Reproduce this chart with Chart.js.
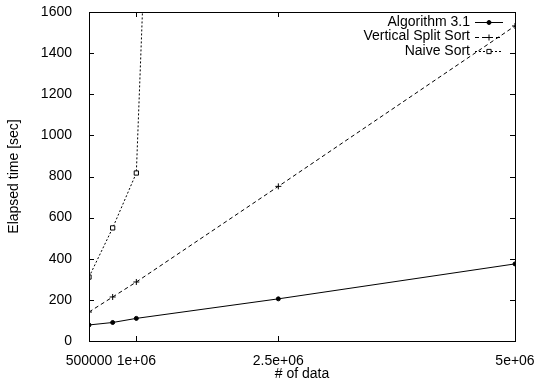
<!DOCTYPE html>
<html>
<head>
<meta charset="utf-8">
<script src="https://cdn.jsdelivr.net/npm/chart.js@4/dist/chart.umd.min.js"></script>
<style>
  html, body { margin: 0; padding: 0; background: #fff; }
</style>
</head>
<body>
<canvas id="perfChart" width="544" height="378"></canvas>
<script>
'use strict';

// data
var sizes = [500000, 750000, 1000000, 2500000, 5000000];
var algo31 = [78, 90, 110, 205, 375];
var vsplit = [141, 214, 287, 752, 1532];
var naiveSizes = [500000, 750000, 1000000, 2500000];
var naive = [311, 550, 817, 19000];

var xTicks = [500000, 1000000, 2500000, 5000000];
var xTickLabels = ['500000', '1e+06', '2.5e+06', '5e+06'];
var yTicks = [0, 200, 400, 600, 800, 1000, 1200, 1400, 1600];

function pairs(xs, ys) {
  return xs.map(function(x, i) { return { x: x, y: ys[i] }; });
}

var FONT = 'Liberation Sans, Arial, Helvetica, sans-serif';

// gnuplot style box with inward ticks
var framePlugin = {
  id: 'frame',
  afterDraw: function(chart) {
    var ctx = chart.ctx;
    var a = chart.chartArea;
    var xs = chart.scales.x, ys = chart.scales.y;
    ctx.save();
    ctx.strokeStyle = '#000';
    ctx.lineWidth = 1;
    ctx.setLineDash([]);
    ctx.strokeRect(a.left + 0.5, a.top + 0.5, a.right - a.left, a.bottom - a.top);
    ctx.beginPath();
    yTicks.forEach(function(v) {
      var py = Math.round(ys.getPixelForValue(v)) + 0.5;
      ctx.moveTo(a.left, py); ctx.lineTo(a.left + 5, py);
      ctx.moveTo(a.right, py); ctx.lineTo(a.right - 5, py);
    });
    xTicks.forEach(function(v) {
      var px = Math.round(xs.getPixelForValue(v)) + 0.5;
      ctx.moveTo(px, a.bottom); ctx.lineTo(px, a.bottom - 5);
      ctx.moveTo(px, a.top); ctx.lineTo(px, a.top + 5);
    });
    ctx.stroke();

    // key in the top right corner
    ctx.font = '14px ' + FONT;
    ctx.textAlign = 'right';
    ctx.textBaseline = 'middle';
    chart.data.datasets.forEach(function(ds, i) {
      var y = a.top + 10 + i * 14.5;
      ctx.fillStyle = '#000';
      ctx.fillText(ds.label, a.right - 45, y);
      ctx.beginPath();
      ctx.setLineDash(ds.borderDash || []);
      ctx.moveTo(a.right - 40, Math.round(y) + 0.5);
      ctx.lineTo(a.right - 12, Math.round(y) + 0.5);
      ctx.stroke();
      ctx.setLineDash([]);
      ctx.fillStyle = ds.pointBackgroundColor;
      ctx.strokeStyle = '#000';
      Chart.helpers.drawPoint(ctx, {
        pointStyle: ds.pointStyle,
        radius: ds.pointRadius,
        borderWidth: 1
      }, a.right - 26, Math.round(y) + 0.5);
    });
    ctx.restore();
  }
};

var ctx = document.getElementById('perfChart').getContext('2d');

var chart = new Chart(ctx, {
  type: 'line',
  data: {
    datasets: [{
      label: 'Algorithm 3.1',
      data: pairs(sizes, algo31),
      borderColor: '#000',
      borderWidth: 1,
      pointStyle: 'circle',
      pointRadius: 2,
      pointBackgroundColor: '#000',
      pointBorderColor: '#000'
    }, {
      label: 'Vertical Split Sort',
      data: pairs(sizes, vsplit),
      borderColor: '#000',
      borderWidth: 1,
      borderDash: [4, 3],
      pointStyle: 'cross',
      pointRadius: 3,
      pointBackgroundColor: '#000',
      pointBorderColor: '#000'
    }, {
      label: 'Naive Sort',
      data: pairs(naiveSizes, naive),
      borderColor: '#000',
      borderWidth: 1,
      borderDash: [2, 2],
      pointStyle: 'rect',
      pointRadius: 3,
      pointBackgroundColor: '#fff',
      pointBorderColor: '#000'
    }]
  },
  options: {
    responsive: false,
    animation: false,
    layout: { padding: { top: 12, right: 29, left: 0, bottom: 0 } },
    plugins: {
      legend: { display: false },
      tooltip: { enabled: false }
    },
    elements: { line: { tension: 0 } },
    scales: {
      x: {
        type: 'linear',
        min: 500000,
        max: 5000000,
        afterBuildTicks: function(scale) {
          scale.ticks = xTicks.map(function(v) { return { value: v }; });
        },
        afterFit: function(scale) {
          scale.height = 37;
          scale.paddingLeft = 0;
          scale.paddingRight = 0;
        },
        grid: { display: false },
        border: { display: false },
        ticks: {
          autoSkip: false,
          maxRotation: 0,
          padding: 4,
          color: '#000',
          font: { family: FONT, size: 14 },
          callback: function(v) {
            var i = xTicks.indexOf(v);
            return i >= 0 ? xTickLabels[i] : '';
          }
        },
        title: {
          display: true,
          text: '# of data',
          color: '#000',
          font: { family: FONT, size: 14 },
          padding: { top: 0, bottom: -5 }
        }
      },
      y: {
        min: 0,
        max: 1600,
        afterBuildTicks: function(scale) {
          scale.ticks = yTicks.map(function(v) { return { value: v }; });
        },
        afterFit: function(scale) {
          scale.width = 89;
          scale.paddingTop = 0;
          scale.paddingBottom = 0;
        },
        grid: { display: false },
        border: { display: false },
        ticks: {
          padding: 9,
          color: '#000',
          font: { family: FONT, size: 14 },
          callback: function(v) { return String(v); }
        },
        title: {
          display: true,
          text: 'Elapsed time [sec]',
          color: '#000',
          font: { family: FONT, size: 14 },
          padding: { top: 6, bottom: 0 }
        }
      }
    }
  },
  plugins: [framePlugin]
});
</script>
</body>
</html>
